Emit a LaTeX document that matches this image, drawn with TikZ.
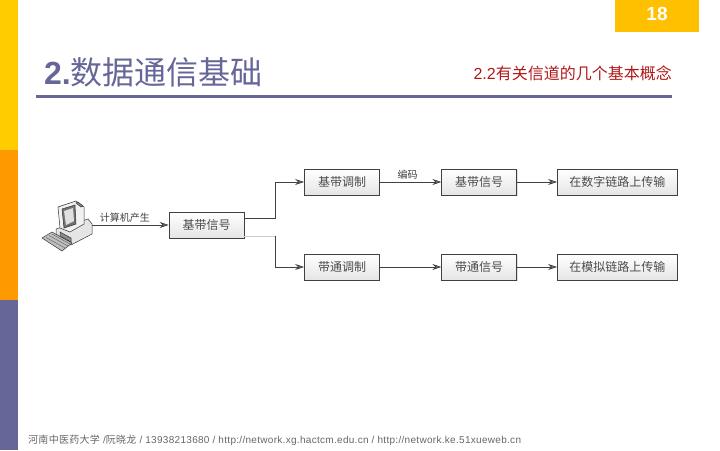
\documentclass[tikz,border=0pt]{standalone}
\usepackage{xcolor}
\usepackage{fontspec}
\setmainfont{Liberation Sans}
\newfontfamily\cjk{Noto Sans CJK SC}
\usetikzlibrary{arrows.meta, positioning, shadows}
\definecolor{barYellow}{HTML}{FFCC00}
\definecolor{barOrange}{HTML}{FF9900}
\definecolor{barPurple}{HTML}{666699}
\definecolor{pageGold}{HTML}{FFC000}
\definecolor{subRed}{HTML}{B01818}
\begin{document}
\begin{tikzpicture}[
	x=1pt, y=-1pt,
	font=\cjk\fontsize{12}{14}\selectfont,
	box/.style={draw=black!75, line width=0.7pt, top color=white, bottom color=black!10, drop shadow={shadow xshift=0.8pt, shadow yshift=-0.8pt, opacity=0.25}, minimum height=26pt, text=black!70, inner sep=0pt},
	smallbox/.style={box, minimum width=75pt},
	widebox/.style={box, minimum width=120pt},
	arrow/.style={-{Stealth[length=9pt, width=6pt, fill=black!55]}, line width=0.7pt, draw=black!75},
	label/.style={font=\cjk\fontsize{10}{12}\selectfont, text=black!75, inner sep=0pt},
	pcline/.style={draw=black!80, line width=0.5pt}
	]
	\useasboundingbox (0,0) rectangle (720,450);
	
	% Slide frame
	\fill[barYellow] (0,0) rectangle (18,150);
	\fill[barOrange] (0,150) rectangle (18,300);
	\fill[barPurple] (0,300) rectangle (18,450);
	\fill[pageGold] (615,0) rectangle (699,32);
	\node[font=\bfseries\fontsize{19}{22}\selectfont, text=white] (page) at (657,14) {18};
	\node[anchor=base west, inner sep=0pt, text=barPurple, font=\fontsize{32}{36}\selectfont] (title) at (44,84) {\textbf{2.}{\cjk 数据通信基础}};
	\node[anchor=base east, inner sep=0pt, text=subRed, font=\fontsize{16}{18}\selectfont] (sub) at (672,79) {2.2{\cjk 有关信道的几个基本概念}};
	\fill[barPurple] (36,94.5) rectangle (672,97.5);
	\node[anchor=base west, inner sep=0pt, text=black!60, font=\addfontfeature{LetterSpace=3}\fontsize{10}{12}\selectfont] (foot) at (28,443) {{\cjk\addfontfeature{LetterSpace=3}河南中医药大学} /{\cjk\addfontfeature{LetterSpace=3}阮晓龙} / 13938213680 / http://network.xg.hactcm.edu.cn / http://network.ke.51xueweb.cn};
	
	% Computer
	\filldraw[pcline, fill=black!10] (56,229) -- (88,219) -- (92,224) -- (92,234) -- (71,245) -- (56,236) -- cycle;
	\filldraw[pcline, fill=black!45] (60,236) -- (71,242) -- (71,238) -- (60,232) -- cycle;
	\filldraw[pcline, fill=black!5] (58,207) -- (76,201) -- (84,207) -- (84,224) -- (70,232) -- (60,228) -- cycle;
	\filldraw[pcline, fill=black!55] (62,209) -- (75,205) -- (76,224) -- (64,228) -- cycle;
	\fill[black!12] (64,211) -- (73,208) -- (74,221) -- (66,225) -- cycle;
	\filldraw[pcline, fill=black!45] (76,203) -- (78,202) -- (83,206) -- (81,207) -- cycle;
	\filldraw[pcline, fill=black!25] (42,238) -- (52,232) -- (72,243) -- (62,251) -- cycle;
	\draw[black!60, line width=0.5pt] (46,237.5) -- (65,248) (49,235.5) -- (68,246) (52,234) -- (70,244);
	\coordinate (pc) at (92,225);
	
	% Nodes
	\node[smallbox] (source) at (206.5,225) {基带信号};
	\node[smallbox] (basemod) at (342,182) {基带调制};
	\node[smallbox] (passmod) at (342,267) {带通调制};
	\node[smallbox, right=61.5pt of basemod] (basesig) {基带信号};
	\node[smallbox, right=61.5pt of passmod] (passsig) {带通信号};
	\node[widebox, right=40pt of basesig] (digital) {在数字链路上传输};
	\node[widebox, right=40pt of passsig] (analog) {在模拟链路上传输};
	
	% Arrows
	\draw[arrow] (pc) -- node[label, above=2pt, pos=0.43]{计算机产生} (source.west);
	\draw[arrow] ([yshift=7pt]source.east) -- ++(31,0) |- (basemod.west);
	\draw[black!20, line width=0.7pt] ([yshift=-11pt]source.east) -- ++(31,0) coordinate (turn);
	\draw[arrow] (turn) |- (passmod.west);
	\draw[arrow] (basemod) -- node[label, above=2pt, pos=0.45]{编码} (basesig);
	\draw[arrow] (passmod) -- (passsig);
	\draw[arrow] (basesig) -- (digital);
	\draw[arrow] (passsig) -- (analog);
	
\end{tikzpicture}
\end{document}
